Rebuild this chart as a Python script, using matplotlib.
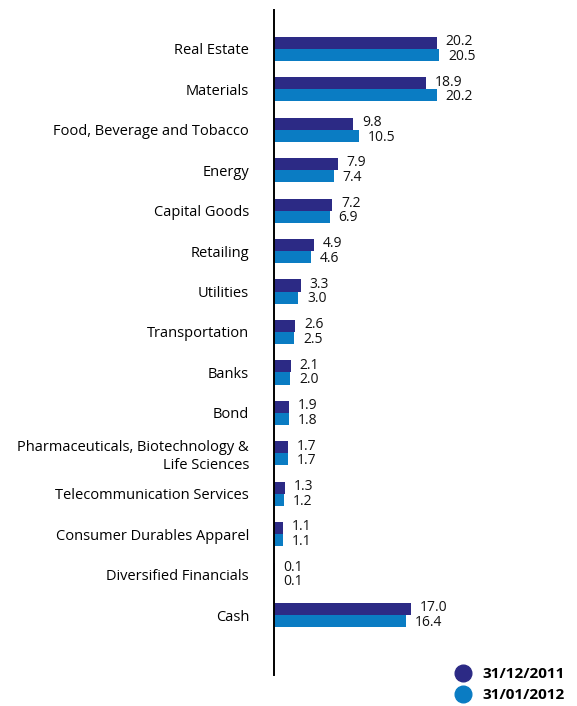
import numpy as np
import matplotlib.pyplot as plt
from matplotlib.lines import Line2D

plt.rcParams['font.family'] = ['Open Sans', 'DejaVu Sans']

sectors = ["Real Estate", "Materials", "Food, Beverage and Tobacco", "Energy",
           "Capital Goods", "Retailing", "Utilities", "Transportation", "Banks",
           "Bond", "Pharmaceuticals, Biotechnology &\nLife Sciences",
           "Telecommunication Services", "Consumer Durables Apparel",
           "Diversified Financials", "Cash"]
dec_2011 = [20.2, 18.9, 9.8, 7.9, 7.2, 4.9, 3.3, 2.6, 2.1, 1.9, 1.7, 1.3, 1.1, 0.1, 17.0]
jan_2012 = [20.5, 20.2, 10.5, 7.4, 6.9, 4.6, 3.0, 2.5, 2.0, 1.8, 1.7, 1.2, 1.1, 0.1, 16.4]
series_names = ["31/12/2011", "31/01/2012"]

dark = '#2c2a85'
light = '#0a7cc3'

fig = plt.figure(figsize=(5.77, 7.06), dpi=100)
ax = fig.add_axes([0.475, 0.044, 0.525, 0.942])

y = np.arange(len(sectors))
h = 0.3
ax.barh(y - h / 2, dec_2011, height=h, color=dark)
ax.barh(y + h / 2, jan_2012, height=h, color=light)

# value labels, squeezed against each other next to the bar ends
for yi, a, b in zip(y, dec_2011, jan_2012):
    ax.text(a + 1.1, yi - 0.18, f"{a:.1f}", va='center', ha='left', fontsize=10, color='#111111')
    ax.text(b + 1.1, yi + 0.18, f"{b:.1f}", va='center', ha='left', fontsize=10, color='#111111')

ax.set_yticks(y)
ax.set_yticklabels(sectors, fontsize=10.5, ha='right', multialignment='right')
ax.tick_params(axis='y', length=0, pad=18)
ax.set_xticks([])
ax.set_xlim(0, 37.6)
ax.set_ylim(len(sectors) - 1 + 1.48, -0.965)
for s in ['top', 'right', 'bottom']:
    ax.spines[s].set_visible(False)
ax.spines['left'].set_linewidth(1.4)

handles = [Line2D([], [], marker='o', linestyle='none', markersize=12, color=c)
           for c in (dark, light)]
fig.legend(handles, series_names, loc='lower right', bbox_to_anchor=(1.0, -0.012),
           frameon=False, handletextpad=0.25, labelspacing=0.45, borderaxespad=0.4,
           prop={'weight': 'bold', 'size': 11})

fig.savefig('out.png', dpi=100)
